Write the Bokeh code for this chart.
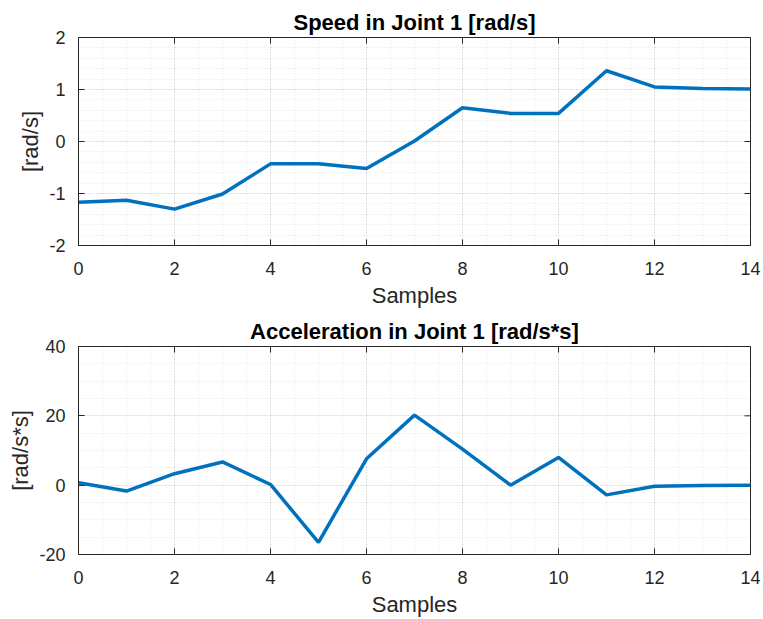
import math

from bokeh.plotting import figure
from bokeh.models import FixedTicker, Range1d
from bokeh.layouts import column
from bokeh.embed import file_html
from bokeh.resources import INLINE
import numpy as np

# Joint 1 samples
samples = list(range(15))
speed = [-1.17, -1.13, -1.30, -1.01, -0.43, -0.43, -0.52, 0.01, 0.65, 0.54,
         0.54, 1.36, 1.05, 1.02, 1.01]
accel = [0.7, -1.7, 3.3, 6.7, 0.2, -16.5, 7.6, 20.2, 10.4, 0.0,
         8.0, -2.8, -0.3, -0.1, 0.0]

x_ticks = [0, 2, 4, 6, 8, 10, 12, 14]
speed_ticks = [-2, -1, 0, 1, 2]
accel_ticks = [-20, 0, 20, 40]

FONT = "Liberation Sans"
INK = "#262626"
BLUE = "#0072BD"


def panel(title, ys, yr, yticks, yminor_step, ylabel, height, top, bottom):
    p = figure(width=763, height=height, x_range=Range1d(0, 14),
               y_range=Range1d(*yr), output_backend="svg",
               toolbar_location=None, min_border_left=78,
               min_border_right=13, min_border_top=top,
               min_border_bottom=bottom)
    p.title.text = title
    p.title.align = "center"
    p.title.text_font = FONT
    p.title.text_font_size = "22px"
    p.title.text_font_style = "bold"
    p.title.text_color = "black"
    p.title.offset = 0
    p.title.standoff = 6

    xminor = list(np.arange(0, 14.01, 0.5))
    yminor = list(np.arange(yr[0], yr[1] + 1e-9, yminor_step))
    xt = FixedTicker(ticks=x_ticks, minor_ticks=xminor)
    yt = FixedTicker(ticks=yticks, minor_ticks=yminor)

    for ax, tk in ((p.xaxis[0], xt), (p.yaxis[0], yt)):
        ax.ticker = tk
        ax.major_tick_in = 6
        ax.major_tick_out = 0
        ax.minor_tick_line_color = None
        ax.axis_line_color = INK
        ax.major_tick_line_color = INK
        ax.major_label_text_font = FONT
        ax.major_label_text_font_size = "18px"
        ax.major_label_text_color = INK
        ax.axis_label_text_font = FONT
        ax.axis_label_text_font_size = "22px"
        ax.axis_label_text_font_style = "normal"
        ax.axis_label_text_color = INK
    # plain hyphen-minus on negative tick labels
    p.yaxis.major_label_overrides = {t: str(t) for t in yticks}
    p.xaxis.axis_label = "Samples"
    p.yaxis.axis_label = ylabel
    p.xaxis.major_label_standoff = 12
    p.xaxis.axis_label_standoff = 5
    p.yaxis.major_label_standoff = 9
    p.yaxis.axis_label_standoff = 3

    for g in (p.xgrid[0], p.ygrid[0]):
        g.grid_line_color = INK
        g.grid_line_alpha = 0.18
        g.grid_line_dash = "1 2"
        g.minor_grid_line_color = INK
        g.minor_grid_line_alpha = 0.12
        g.minor_grid_line_dash = "1 2"
    p.xgrid.ticker = xt
    p.ygrid.ticker = yt

    p.outline_line_color = INK
    p.outline_line_width = 1
    p.background_fill_color = "white"
    p.border_fill_color = "white"

    # box ticks along the top and right edges (half of each dash is clipped)
    p.scatter(x_ticks, [yr[1]] * len(x_ticks), marker="dash", size=12,
              angle=math.pi / 2, line_color=INK, line_width=1)
    p.scatter([14] * len(yticks), yticks, marker="dash", size=12,
              line_color=INK, line_width=1)

    p.line(samples, ys, line_color=BLUE, line_width=3.5)
    return p


p1 = panel("Speed in Joint 1 [rad/s]", speed, (-2, 2), speed_ticks, 0.2,
           "[rad/s]", 310, 37, 65)
p2 = panel("Acceleration in Joint 1 [rad/s*s]", accel, (-20, 40), accel_ticks, 5,
           "[rad/s*s]", 309, 36, 64)

layout = column(p1, p2, spacing=0)
open("out.html", "w").write(file_html(layout, INLINE))
